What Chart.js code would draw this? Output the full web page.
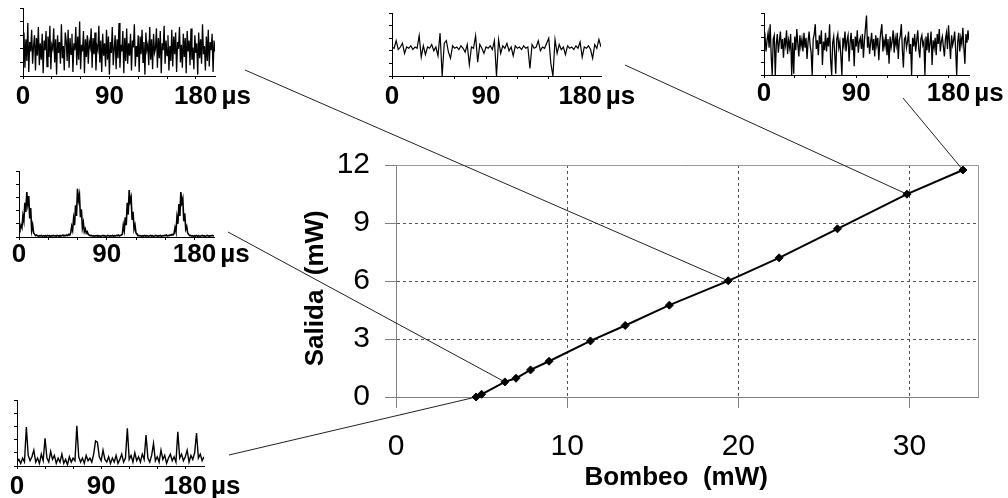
<!DOCTYPE html>
<html>
<head>
<meta charset="utf-8">
<script src="https://cdn.jsdelivr.net/npm/chart.js@4.4.0/dist/chart.umd.min.js"></script>
<style>
  html, body { margin: 0; padding: 0; background: #fff; overflow: hidden; }
  #hoja { position: relative; width: 1008px; height: 498px; overflow: hidden; }
  canvas { position: absolute; }
</style>
</head>
<body>
<div id="hoja">
  <canvas id="principal" width="1008" height="498" style="left:0;top:0"></canvas>
</div>
<script>
// curva principal: potencia de salida frente a bombeo (mW)
const bombeo = [4.68, 5.0, 6.36, 7.01, 7.86, 8.94, 11.36, 13.39, 15.97, 19.41, 22.38, 25.79, 29.85, 33.12];
const salida = [0.0, 0.14, 0.78, 0.97, 1.40, 1.85, 2.90, 3.70, 4.75, 6.01, 7.20, 8.70, 10.49, 11.74];
const ticksBombeo = [0, 10, 20, 30];
const ticksSalida = [0, 3, 6, 9, 12];

// trazas temporales de los recuadros (unidades arbitrarias, 0..200 us)
const ticksTiempo = [0, 30, 60, 90, 120, 150, 180];
const etiquetasTiempo = [0, 90, 180];

const trazaA = [ // arriba izquierda, 1 us por muestra
  1.4, 3.2, 0.6, 2.7, 1.1, 3.9, 0.3, 2.5, 1.8, 3.4,
  0.9, 2.2, 3.0, 0.4, 2.8, 1.5, 3.6, 0.8, 2.4, 1.2,
  3.1, 0.2, 2.6, 1.9, 3.3, 0.7, 2.9, 1.4, 3.7, 0.5,
  2.3, 2.0, 3.5, 1.0, 2.7, 0.1, 3.0, 1.7, 2.5, 0.9,
  3.8, 1.3, 2.2, 0.4, 3.2, 2.6, 1.1, 3.4, 0.6, 2.8,
  1.6, 3.1, 0.3, 2.4, 1.9, 3.6, 0.8, 2.9, 1.2, 4.0,
  0.5, 2.3, 1.8, 3.3, 0.2, 2.7, 1.4, 3.0, 0.9, 2.5,
  2.1, 3.5, 0.6, 2.8, 1.6, 3.2, 0.4, 2.2, 1.9, 3.7,
  1.0, 2.6, 0.3, 3.1, 1.5, 2.4, 0.7, 3.4, 1.2, 2.9,
  0.1, 2.5, 1.7, 3.6, 0.8, 2.0, 3.0, 0.5, 2.7, 1.3,
  3.9, 0.6, 2.3, 1.8, 3.3, 0.2, 2.8, 1.1, 3.5, 0.9,
  2.4, 1.5, 3.1, 0.4, 2.6, 2.1, 3.8, 0.7, 2.2, 1.4,
  3.0, 0.3, 2.9, 1.6, 3.4, 1.0, 2.5, 0.1, 3.2, 1.9,
  2.3, 0.8, 3.6, 1.2, 2.7, 0.5, 3.1, 1.7, 2.0, 3.5,
  0.6, 2.8, 1.3, 3.3, 0.2, 2.4, 1.9, 3.7, 0.9, 2.6,
  1.5, 3.0, 0.4, 2.2, 1.1, 3.4, 0.7, 2.9, 1.6, 3.2,
  0.3, 2.5, 2.0, 3.6, 1.0, 2.3, 0.6, 3.1, 1.4, 2.8,
  0.2, 3.3, 1.8, 2.6, 0.8, 3.5, 1.2, 2.1, 0.5, 3.0,
  1.7, 2.4, 0.1, 3.2, 1.3, 2.7, 0.9, 3.8, 1.6, 2.2,
  0.4, 2.9, 1.1, 3.4, 0.7, 2.5, 1.9, 3.1, 0.3, 2.6,
  1.8
];
const trazaB = [ // arriba centro, 2 us por muestra
  2.3, 2.2, 2.8, 2.1, 2.3, 2.6, 1.8, 2.3, 2.2, 2.4,
  2.1, 2.3, 2.2, 3.2, 1.5, 2.4, 1.7, 2.3, 2.2, 2.5,
  2.0, 2.3, 1.6, 3.4, 0.0, 2.6, 2.8, 1.9, 1.4, 2.4,
  2.2, 2.3, 2.1, 2.4, 2.2, 1.9, 2.5, 0.9, 2.3, 2.2,
  3.2, 1.1, 2.5, 2.2, 1.8, 2.3, 2.2, 2.4, 2.1, 2.8,
  0.0, 2.9, 1.8, 2.4, 2.2, 2.6, 2.0, 2.3, 1.6, 2.4,
  2.2, 2.3, 2.1, 2.4, 2.2, 2.3, 0.6, 2.5, 2.2, 2.3,
  2.8, 2.0, 2.3, 2.2, 2.6, 3.0, 1.0, 0.0, 2.9, 1.8,
  2.5, 2.1, 2.3, 1.7, 2.4, 2.2, 2.3, 2.1, 2.4, 2.2,
  2.7, 1.5, 2.3, 2.2, 2.4, 2.1, 1.4, 2.5, 2.2, 2.9,
  2.3
];
const trazaC = [ // arriba derecha, 1 us por muestra
  2.6, 3.1, 1.9, 2.8, 3.4, 2.2, 4.1, 1.6, 0.0, 2.9,
  3.2, 0.0, 2.5, 3.3, 1.8, 2.7, 3.5, 2.1, 2.9, 1.4,
  3.0, 2.4, 3.6, 1.7, 2.8, 2.2, 3.3, 0.0, 2.6, 0.1,
  3.1, 2.0, 3.7, 2.5, 1.5, 3.2, 2.3, 2.9, 1.9, 3.4,
  2.2, 3.0, 1.3, 2.7, 3.5, 2.4, 1.8, 0.0, 2.9, 3.3,
  4.1, 2.1, 2.8, 1.6, 3.2, 2.5, 3.6, 0.8, 2.7, 2.0,
  3.4, 1.9, 3.0, 2.3, 4.1, 1.2, 0.0, 2.6, 3.1, 1.7,
  0.1, 2.9, 3.3, 2.2, 2.7, 1.5, 0.0, 3.0, 2.4, 3.5,
  1.9, 2.8, 3.2, 1.1, 2.6, 3.4, 2.0, 2.9, 0.7, 3.1,
  2.3, 3.6, 1.8, 2.7, 3.0, 2.1, 3.3, 1.4, 2.8, 3.8,
  4.8, 2.2, 3.1, 1.7, 2.6, 3.4, 2.0, 2.9, 1.5, 3.2,
  2.4, 3.0, 1.2, 2.7, 3.5, 4.1, 1.9, 2.8, 2.3, 3.3,
  1.6, 2.9, 0.9, 3.1, 2.2, 2.7, 3.6, 1.8, 3.0, 2.4,
  3.4, 1.3, 2.8, 3.2, 4.1, 2.0, 0.6, 2.9, 3.1, 2.2,
  2.7, 3.5, 1.7, 2.5, 0.0, 3.0, 2.3, 3.3, 1.9, 2.8,
  3.6, 2.1, 1.4, 2.9, 3.2, 2.4, 2.7, 0.0, 3.1, 2.0,
  3.4, 1.8, 2.6, 3.5, 0.8, 2.8, 2.2, 3.0, 1.6, 3.3,
  2.5, 3.7, 1.9, 2.7, 3.1, 2.3, 1.5, 2.9, 3.4, 2.1,
  4.0, 2.6, 1.3, 3.2, 2.4, 2.8, 3.5, 2.0, 0.0, 2.7,
  3.4, 1.9, 3.0, 2.5, 3.8, 2.2, 0.9, 3.3, 2.6, 3.6,
  2.8
];
const trazaD = [ // centro izquierda (pulsos), 1 us por muestra
  0.8, 0.6, 0.9, 0.7, 1.6, 1.2, 2.6, 1.9, 3.4, 2.5,
  3.1, 1.4, 2.2, 0.5, 0.9, 0.3, 0.2, 0.1, 0.15, 0.1,
  0.05, 0.1, 0.08, 0.12, 0.05, 0.1, 0.06, 0.1, 0.05, 0.12,
  0.08, 0.1, 0.05, 0.1, 0.07, 0.12, 0.08, 0.1, 0.05, 0.12,
  0.1, 0.08, 0.12, 0.06, 0.1, 0.15, 0.08, 0.12, 0.1, 0.15,
  0.1, 0.2, 0.15, 0.3, 0.8, 0.5, 1.4, 0.9, 2.4, 1.6,
  3.65, 2.8, 3.2, 1.5, 2.1, 0.7, 1.1, 0.4, 0.6, 0.3,
  0.4, 0.2, 0.15, 0.1, 0.12, 0.08, 0.1, 0.05, 0.1, 0.07,
  0.12, 0.06, 0.1, 0.08, 0.05, 0.1, 0.12, 0.07, 0.1, 0.05,
  0.08, 0.12, 0.1, 0.06, 0.1, 0.08, 0.12, 0.05, 0.1, 0.08,
  0.12, 0.1, 0.15, 0.08, 0.12, 0.15, 0.2, 0.9, 0.5, 1.5,
  0.9, 2.6, 1.7, 3.55, 2.7, 3.0, 1.3, 1.9, 0.6, 0.9,
  0.3, 0.2, 0.1, 0.12, 0.08, 0.1, 0.05, 0.1, 0.07, 0.12,
  0.06, 0.1, 0.08, 0.05, 0.1, 0.12, 0.07, 0.1, 0.05, 0.08,
  0.12, 0.1, 0.06, 0.1, 0.08, 0.12, 0.05, 0.1, 0.08, 0.12,
  0.1, 0.15, 0.08, 0.12, 0.1, 0.15, 0.12, 0.2, 0.15, 0.25,
  0.7, 0.4, 1.5, 1.0, 2.5, 1.6, 3.4, 2.6, 2.9, 1.2,
  1.8, 0.6, 0.8, 0.3, 0.2, 0.1, 0.12, 0.08, 0.1, 0.05,
  0.1, 0.07, 0.12, 0.06, 0.1, 0.08, 0.05, 0.1, 0.12, 0.07,
  0.1, 0.05, 0.08, 0.12, 0.1, 0.06, 0.1, 0.08, 0.12, 0.1,
  0.08
];
const trazaE = [ // abajo izquierda, 2 us por muestra
  0.3, 0.5, 0.2, 0.6, 0.3, 2.95, 0.8, 0.4, 0.7, 1.2,
  0.3, 0.6, 0.2, 0.9, 0.4, 2.1, 0.6, 0.3, 1.1, 0.5,
  0.8, 0.2, 0.6, 0.3, 0.9, 0.2, 0.5, 0.1, 0.7, 0.3,
  0.6, 0.4, 3.05, 0.7, 0.3, 0.6, 0.2, 0.8, 0.4, 0.6,
  0.3, 0.9, 1.9, 1.8, 0.7, 0.4, 1.2, 0.5, 0.3, 0.7,
  0.2, 0.6, 0.3, 0.8, 0.2, 0.5, 0.9, 0.3, 0.6, 2.85,
  0.5, 0.8, 0.3, 1.0, 0.4, 0.7, 0.3, 0.9, 0.5, 2.35,
  0.6, 0.3, 0.8, 1.7, 0.4, 0.7, 0.3, 1.2, 0.5, 0.8,
  0.2, 0.6, 0.9, 0.4, 0.7, 0.3, 2.6, 0.6, 0.9, 0.4,
  0.7, 1.2, 0.3, 0.8, 0.5, 1.0, 2.5, 0.6, 0.9, 0.4,
  0.7
];

// ubicacion de cada recuadro (area de trazado en px), punto de la curva al que apunta
const recuadros = [
  { traza: trazaA, paso: 1, area: [23, 8, 215, 76],    punto: 9,  guia: [245, 70],  sep: 21, grosor: 1.3 },
  { traza: trazaB, paso: 2, area: [392, 13, 601, 76],  punto: 12, guia: [625, 65],  sep: 21, grosor: 1.2 },
  { traza: trazaC, paso: 1, area: [764, 13, 969, 75],  punto: 13, guia: [903, 98],  sep: 19, grosor: 1.3 },
  { traza: trazaD, paso: 1, area: [19, 171, 214, 237], punto: 2,  guia: [228, 232], sep: 17.5, grosor: 1.6 },
  { traza: trazaE, paso: 2, area: [17, 400, 204, 466], punto: 0,  guia: [229, 455], sep: 20.5, grosor: 1.4 }
];

const fuente = 'Arial, "Liberation Sans", sans-serif';
Chart.defaults.color = '#000';

const marco = {
  id: 'marco',
  beforeDatasetsDraw(chart) {
    const { ctx, chartArea: a, scales: { x, y } } = chart;
    ctx.save();
    ctx.lineWidth = 1;
    ctx.strokeStyle = '#999';
    ctx.beginPath();
    ctx.moveTo(a.left, a.top + 0.5);
    ctx.lineTo(a.right + 0.5, a.top + 0.5);
    ctx.lineTo(a.right + 0.5, a.bottom);
    ctx.stroke();
    // lineas que unen cada recuadro con su punto
    ctx.strokeStyle = '#222';
    recuadros.forEach(r => {
      ctx.beginPath();
      ctx.moveTo(r.guia[0], r.guia[1]);
      ctx.lineTo(x.getPixelForValue(bombeo[r.punto]), y.getPixelForValue(salida[r.punto]));
      ctx.stroke();
    });
    ctx.restore();
  }
};

new Chart(document.getElementById('principal'), {
  type: 'line',
  data: {
    datasets: [{
      data: bombeo.map((b, i) => ({ x: b, y: salida[i] })),
      borderColor: '#000',
      backgroundColor: '#000',
      borderWidth: 2,
      pointStyle: 'rectRot',
      pointRadius: 4,
      pointBorderWidth: 1,
      tension: 0,
      clip: false
    }]
  },
  options: {
    responsive: false,
    animation: false,
    events: [],
    layout: { padding: { left: 300, top: 165, right: 30, bottom: 0 } },
    plugins: { legend: { display: false }, tooltip: { enabled: false } },
    scales: {
      x: {
        type: 'linear', min: 0, max: 34,
        afterBuildTicks: s => { s.ticks = ticksBombeo.map(v => ({ value: v })); },
        afterFit: s => { s.height = 101; },
        ticks: { color: '#000', padding: 20.7, maxRotation: 0, font: { family: fuente, size: 30 } },
        grid: { color: '#555', tickLength: 11, tickColor: '#808080' },
        border: { color: '#808080', dash: [3, 3] },
        title: {
          display: true, text: 'Bombeo  (mW)   ', color: '#000',
          font: { family: fuente, size: 26, weight: 'bold' },
          padding: { top: 0, bottom: 5 }
        }
      },
      y: {
        type: 'linear', min: 0, max: 12,
        afterBuildTicks: s => { s.ticks = ticksSalida.map(v => ({ value: v })); },
        afterFit: s => { s.width = 96; },
        ticks: { color: '#000', padding: 15, font: { family: fuente, size: 30 } },
        grid: { color: '#555', tickLength: 11, tickColor: '#808080' },
        border: { color: '#808080', dash: [3, 3] },
        title: {
          display: true, text: 'Salida  (mW)  ', color: '#000',
          font: { family: fuente, size: 26, weight: 'bold' },
          padding: { top: 0, bottom: 0 }
        }
      }
    }
  },
  plugins: [marco]
});

// unidad "µs" a la derecha del rotulo 180
const unidadUs = {
  id: 'unidadUs',
  afterDraw(chart) {
    const x = chart.scales.x, ctx = chart.ctx;
    ctx.save();
    ctx.font = 'bold 26px ' + fuente;
    const px = x.getPixelForValue(180) + ctx.measureText('180').width / 2 + 4;
    const py = x.top + 3 + x.options.ticks.padding + 13;
    ctx.fillStyle = '#000';
    ctx.textAlign = 'left';
    ctx.textBaseline = 'middle';
    ctx.fillText('µs', px, py);
    ctx.restore();
  }
};

const hoja = document.getElementById('hoja');
recuadros.forEach(r => {
  const [l, t, rr, b] = r.area;
  const cv = document.createElement('canvas');
  cv.width = rr - l + 20 + 40;
  cv.height = b - t + 6 + 36;
  cv.style.left = (l - 20) + 'px';
  cv.style.top = (t - 6) + 'px';
  hoja.appendChild(cv);

  new Chart(cv, {
    type: 'line',
    data: {
      datasets: [{
        data: r.traza.map((v, i) => ({ x: i * r.paso, y: v })),
        borderColor: '#000',
        borderWidth: r.grosor,
        pointRadius: 0,
        tension: 0
      }]
    },
    options: {
      responsive: false,
      animation: false,
      events: [],
      layout: { padding: { left: 0, top: 6, right: 40, bottom: 0 } },
      plugins: { legend: { display: false }, tooltip: { enabled: false } },
      scales: {
        x: {
          type: 'linear', min: 0, max: 200,
          afterBuildTicks: s => { s.ticks = ticksTiempo.map(v => ({ value: v })); },
          afterFit: s => { s.height = 36; },
          ticks: {
            autoSkip: false, maxRotation: 0, padding: r.sep - 16, color: '#000',
            font: { family: fuente, size: 26, weight: 'bold', lineHeight: 1 },
            callback: v => etiquetasTiempo.includes(v) ? String(v) : ''
          },
          grid: { drawOnChartArea: false, tickLength: 3, color: '#000' },
          border: { color: '#000', width: 1 }
        },
        y: {
          type: 'linear', min: 0, max: 5,
          ticks: { stepSize: 1, display: false },
          afterFit: s => { s.width = 20; },
          grid: { drawOnChartArea: false, tickLength: 3, color: '#000' },
          border: { color: '#000', width: 1 }
        }
      }
    },
    plugins: [unidadUs]
  });
});
</script>
</body>
</html>
